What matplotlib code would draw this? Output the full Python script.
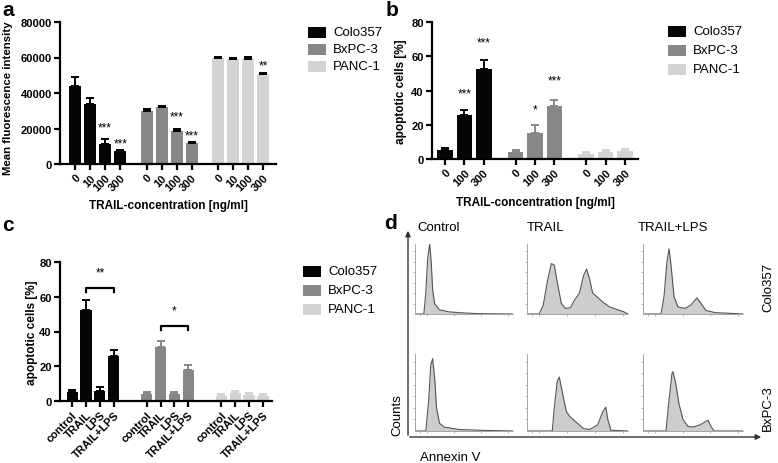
import matplotlib
matplotlib.use("Agg")
import matplotlib.pyplot as plt
from matplotlib.patches import Rectangle
import numpy as np

plt.rcParams['font.family'] = ['Liberation Sans', 'DejaVu Sans']

# ---- data ----
lines = ["Colo357", "BxPC-3", "PANC-1"]
colors = ["#050505", "#878787", "#d3d3d3"]

# panel a: mean fluorescence intensity
conc_a = ["0", "10", "100", "300"]
mfi_colo = [43800, 34000, 11500, 7500]
mfi_colo_err = [5000, 3200, 2500, 400]
mfi_bxpc = [30000, 32000, 18500, 12000]
mfi_bxpc_err = [1000, 400, 1000, 500]
mfi_panc = [60000, 59000, 59000, 50500]
mfi_panc_err = [500, 900, 1200, 700]
stars_a = [[None, None, "***", "***"], [None, None, "***", "***"], [None, None, None, "**"]]
stars_a_y = [[0, 0, 20800, 11800], [0, 0, 27000, 16300], [0, 0, 0, 55700]]

# panel b: apoptotic cells vs concentration
conc_b = ["0", "100", "300"]
apo_colo = [5, 25.5, 52.5]
apo_colo_err = [1.2, 3, 5.5]
apo_bxpc = [4, 15, 31]
apo_bxpc_err = [1, 5, 3.5]
apo_panc = [3, 4, 4.5]
apo_panc_err = [1.3, 1.3, 1.3]
stars_b = [[None, "***", "***"], [None, "*", "***"], [None, None, None]]
stars_b_y = [[0, 38, 68], [0, 29, 45.6], [0, 0, 0]]

# panel c: treatments
treat = ["control", "TRAIL", "LPS", "TRAIL+LPS"]
trt_colo = [5, 52.5, 6, 26]
trt_colo_err = [1.2, 5.5, 2, 3.5]
trt_bxpc = [4, 31, 4, 18]
trt_bxpc_err = [1, 3.5, 1.3, 3]
trt_panc = [3, 4.5, 3.5, 3]
trt_panc_err = [1.3, 1, 1.2, 1.3]
bracket_c_y = [65, 43]
bracket_c_txt = ["**", "*"]

# panel d: flow histograms (relative Annexin V position, relative counts)
hist_cols = ["Control", "TRAIL", "TRAIL+LPS"]
hist_rows = ["Colo357", "BxPC-3"]
h_colo_ctrl_x = [0, 0.09, 0.11, 0.13, 0.15, 0.165, 0.18, 0.2, 0.25, 0.35, 0.5, 0.65, 1.0]
h_colo_ctrl_y = [0, 0, 0.3, 0.8, 1.0, 0.75, 0.35, 0.15, 0.06, 0.03, 0.015, 0.005, 0]
h_colo_trail_x = [0, 0.12, 0.16, 0.2, 0.24, 0.27, 0.3, 0.34, 0.38, 0.43, 0.47, 0.52, 0.56,
                  0.59, 0.62, 0.65, 0.69, 0.75, 0.82, 0.9, 0.96, 1.0]
h_colo_trail_y = [0, 0, 0.12, 0.45, 0.72, 0.7, 0.45, 0.15, 0.08, 0.09, 0.2, 0.3, 0.55,
                  0.64, 0.5, 0.3, 0.25, 0.17, 0.1, 0.06, 0.03, 0]
h_colo_tl_x = [0, 0.18, 0.21, 0.24, 0.26, 0.28, 0.31, 0.35, 0.42, 0.48, 0.54, 0.58, 0.63, 0.72, 1.0]
h_colo_tl_y = [0, 0, 0.25, 0.75, 0.93, 0.7, 0.25, 0.1, 0.08, 0.13, 0.23, 0.15, 0.05, 0.02, 0]
h_bx_ctrl_x = [0, 0.11, 0.14, 0.16, 0.18, 0.2, 0.22, 0.25, 0.3, 0.45, 0.7, 1.0]
h_bx_ctrl_y = [0, 0, 0.4, 0.85, 0.94, 0.7, 0.3, 0.1, 0.05, 0.02, 0.008, 0]
h_bx_trail_x = [0, 0.25, 0.27, 0.3, 0.32, 0.35, 0.39, 0.43, 0.5, 0.56, 0.62, 0.7, 0.75,
                0.78, 0.8, 0.83, 1.0]
h_bx_trail_y = [0, 0, 0.3, 0.65, 0.7, 0.5, 0.25, 0.18, 0.1, 0.03, 0.02, 0.08, 0.25,
                0.31, 0.15, 0.01, 0]
h_bx_tl_x = [0, 0.23, 0.26, 0.29, 0.3, 0.33, 0.36, 0.4, 0.45, 0.5, 0.57, 0.65, 0.68, 0.71, 1.0]
h_bx_tl_y = [0, 0, 0.4, 0.75, 0.77, 0.6, 0.35, 0.15, 0.06, 0.05, 0.08, 0.14, 0.06, 0.0, 0]

W, H = 778, 464
fig = plt.figure(figsize=(7.78, 4.64), dpi=100)

TICK_FS = 8
LAB_FS = 8.5


def box(l, t, r, b):
    # pixel box -> figure fraction
    return [l / W, 1 - b / H, (r - l) / W, (b - t) / H]


def prism(ax):
    for s in ["top", "right"]:
        ax.spines[s].set_visible(False)
    for s in ["left", "bottom"]:
        ax.spines[s].set_linewidth(1.6)
    ax.tick_params(direction="out", length=4, width=1.6, labelsize=TICK_FS, pad=2)
    for t in ax.get_yticklabels():
        t.set_fontweight("bold")


def bars(ax, groups, errs, stars, stars_y, labels, offset, ecolors):
    xs = []
    for g, (vals, err) in enumerate(zip(groups, errs)):
        x = g * offset + np.arange(len(vals))
        ax.bar(x, vals, width=0.8, color=colors[g], zorder=2)
        ax.errorbar(x, vals, yerr=[np.zeros(len(vals)), err], fmt="none",
                    ecolor=ecolors[g], elinewidth=1.4, capsize=3, capthick=1.4, zorder=3)
        if stars:
            for xi, s, sy in zip(x, stars[g], stars_y[g]):
                if s:
                    ax.text(xi, sy, s, ha="center", va="center", fontsize=8.5)
        xs.extend(x)
    ax.set_xticks(xs)
    ax.set_xticklabels(labels * len(groups), rotation=45, ha="right",
                       rotation_mode="anchor", fontweight="bold", fontsize=TICK_FS)
    return xs


# ---- panel a ----
ax = fig.add_axes(box(60, 23, 276, 165))
bars(ax, [mfi_colo, mfi_bxpc, mfi_panc], [mfi_colo_err, mfi_bxpc_err, mfi_panc_err],
     stars_a, stars_a_y, conc_a, 4.75, ["black"] * 3)
ax.set_xlim(-1, 13.35)
ax.set_ylim(0, 80000)
ax.set_yticks([0, 20000, 40000, 60000, 80000])
prism(ax)
ax.set_ylabel("Mean fluorescence intensity", fontsize=8.2, fontweight="bold")
ax.yaxis.set_label_coords(-0.218, 0.47)
ax.set_xlabel("TRAIL-concentration [ng/ml]", fontsize=LAB_FS, fontweight="bold")
ax.xaxis.set_label_coords(0.5, -0.25)

# ---- panel b ----
ax = fig.add_axes(box(432, 23, 638, 160))
bars(ax, [apo_colo, apo_bxpc, apo_panc], [apo_colo_err, apo_bxpc_err, apo_panc_err],
     stars_b, stars_b_y, conc_b, 3.64, colors)
ax.set_xlim(-0.67, 9.95)
ax.set_ylim(0, 80)
ax.set_yticks([0, 20, 40, 60, 80])
prism(ax)
ax.set_ylabel("apoptotic cells [%]", fontsize=LAB_FS, fontweight="bold")
ax.yaxis.set_label_coords(-0.121, 0.5)
ax.set_xlabel("TRAIL-concentration [ng/ml]", fontsize=LAB_FS, fontweight="bold")
ax.xaxis.set_label_coords(0.5, -0.27)

# ---- panel c ----
ax = fig.add_axes(box(60, 263, 272, 402))
bars(ax, [trt_colo, trt_bxpc, trt_panc], [trt_colo_err, trt_bxpc_err, trt_panc_err],
     None, None, treat, 5.36, colors)
ax.set_xlim(-0.87, 14.37)
ax.set_ylim(0, 80)
ax.set_yticks([0, 20, 40, 60, 80])
prism(ax)
ax.set_ylabel("apoptotic cells [%]", fontsize=LAB_FS, fontweight="bold")
ax.yaxis.set_label_coords(-0.104, 0.5)
for g, (by, txt) in enumerate(zip(bracket_c_y, bracket_c_txt)):
    x1, x2 = g * 5.36 + 1, g * 5.36 + 3
    ax.plot([x1, x1, x2, x2], [by - 2, by, by, by - 2], color="black", lw=1.6, clip_on=False)
    ax.text((x1 + x2) / 2, by + 9, txt, ha="center", va="center", fontsize=8.5)

# ---- panel d: histograms ----
hx = [[h_colo_ctrl_x, h_colo_trail_x, h_colo_tl_x], [h_bx_ctrl_x, h_bx_trail_x, h_bx_tl_x]]
hy = [[h_colo_ctrl_y, h_colo_trail_y, h_colo_tl_y], [h_bx_ctrl_y, h_bx_trail_y, h_bx_tl_y]]
col_px = [(415, 513), (527, 628), (643, 743)]
row_px = [(245, 315), (355, 432)]
for r in range(2):
    for c in range(3):
        a = fig.add_axes(box(col_px[c][0], row_px[r][0], col_px[c][1], row_px[r][1]))
        a.fill_between(hx[r][c], hy[r][c], color="#cdcdcd", lw=0)
        a.plot(hx[r][c], hy[r][c], color="#555555", lw=0.8)
        a.set_xlim(0, 1)
        a.set_ylim(0, 1)
        for s in ["top", "right"]:
            a.spines[s].set_visible(False)
        for s in ["left", "bottom"]:
            a.spines[s].set_linewidth(0.6)
            a.spines[s].set_color("#999999")
        a.set_xticks([0.05, 0.12, 0.4, 0.67, 0.95])
        a.set_yticks([0.15, 0.3, 0.45, 0.6, 0.75, 0.9])
        a.tick_params(length=1.5, width=0.5, color="#999999", labelbottom=False, labelleft=False)
        a.patch.set_alpha(0)

# ---- overlay: labels, legends, arrows ----
ov = fig.add_axes([0, 0, 1, 1])
ov.set_xlim(0, W)
ov.set_ylim(H, 0)
ov.axis("off")
ov.patch.set_alpha(0)

for lab, (x, y) in zip("abcd", [(8, 1), (392, 1), (8, 216), (391, 214)]):
    ov.text(x, y, lab, fontsize=15, fontweight="bold", ha="center", va="top")


def legend(x, ys):
    for y, col, name in zip(ys, colors, lines):
        ov.add_patch(Rectangle((x, y - 5.5), 18, 11, color=col, lw=0))
        ov.text(x + 25, y, name, va="center", ha="left", fontsize=9.5)


legend(308, [33, 50, 67])
legend(668, [32, 51, 70])
legend(303, [272, 291, 310])

ov.annotate("", xy=(408, 229), xytext=(408, 439),
            arrowprops=dict(arrowstyle="-|>", color="#333333", lw=1, mutation_scale=8))
ov.annotate("", xy=(764, 438), xytext=(407, 438),
            arrowprops=dict(arrowstyle="-|>", color="#333333", lw=1, mutation_scale=8))
for name, x in zip(hist_cols, [417, 527, 638]):
    ov.text(x, 228, name, fontsize=9.5, ha="left", va="center")
for name, y in zip(hist_rows, [287, 408]):
    ov.text(768, y, name, fontsize=9.5, rotation=90, ha="center", va="center")
ov.text(397, 415, "Counts", fontsize=9.5, rotation=90, ha="center", va="center")
ov.text(420, 458, "Annexin V", fontsize=9.5, ha="left", va="center")

fig.savefig("out.png", dpi=100)
